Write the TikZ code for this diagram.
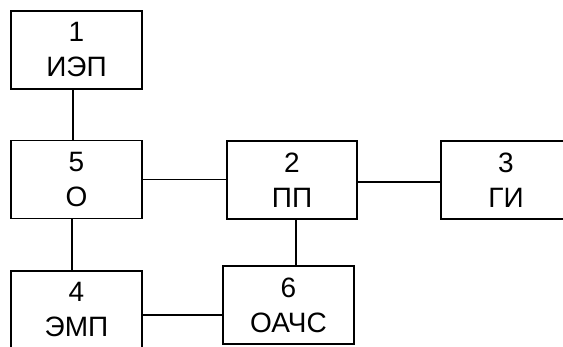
\documentclass[tikz,border=0pt]{standalone}
\usepackage{fontspec}
\setmainfont{Liberation Sans}
\begin{document}
\begin{tikzpicture}[x=1pt,y=-1pt,
  blk/.style={draw=black, line width=1.8pt, rectangle, inner sep=0pt,
    minimum width=131pt, minimum height=78pt, align=center,
    font=\fontsize{28}{35}\selectfont},
  wire/.style={draw=black, line width=1.6pt}]
\useasboundingbox (0,0) rectangle (563,347);
\clip (0,0) rectangle (563,347);
\fill[white] (0,0) rectangle (563,347);
\node[blk] (b1) at (76.5,50) {1\\ИЭП};
\node[blk] (b5) at (76.5,179.5) {5\\О};
\node[blk, minimum width=130pt] (b2) at (292,180) {2\\ПП};
\node[blk, minimum width=130pt] (b3) at (506,180) {3\\ГИ};
\node[blk] (b4) at (76.5,310) {4\\ЭМП};
\node[blk] (b6) at (288.5,305) {6\\ОАЧС};
\draw[wire] ([xshift=-3.5pt]b1.south) -- ([xshift=-3.5pt]b1.south |- b5.north);
\draw[wire] ([xshift=-4.5pt]b5.south) -- ([xshift=-4.5pt]b5.south |- b4.north);
\draw[wire] (b5.east) -- (b5.east -| b2.west);
\draw[wire] ([yshift=-2pt]b2.east) -- ([yshift=-2pt]b2.east -| b3.west);
\draw[wire] ([xshift=4pt]b2.south) -- ([xshift=4pt]b2.south |- b6.north);
\draw[wire] ([yshift=-5pt]b4.east) -- ([yshift=-5pt]b4.east -| b6.west);
\end{tikzpicture}
\end{document}
